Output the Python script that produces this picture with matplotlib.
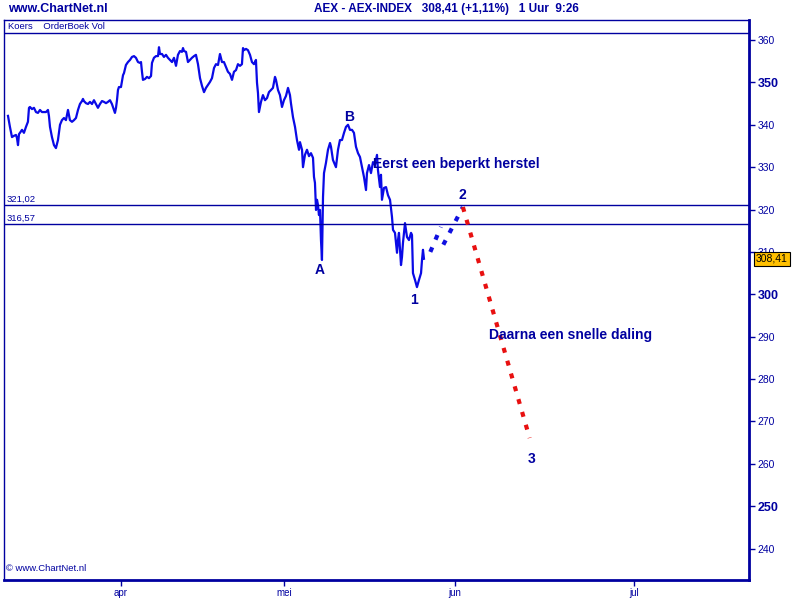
import matplotlib.pyplot as plt

# koersdata (uurbasis), x = handelsdag t.o.v. 1 april
dagen = [
    -13.88, -13.64, -13.39, -13.14, -12.90, -12.78, -12.65, -12.53, -12.41, -12.16,
    -11.92, -11.67, -11.43, -11.30, -11.18, -10.93, -10.69, -10.44, -10.20, -9.95,
    -9.71, -9.46, -9.21, -8.97, -8.85, -8.72, -8.48, -8.23, -7.99, -7.74,
    -7.49, -7.25, -7.00, -6.76, -6.51, -6.39, -6.27, -6.02, -5.77, -5.53,
    -5.28, -5.04, -4.79, -4.67, -4.55, -4.30, -4.05, -3.81, -3.56, -3.32,
    -3.07, -2.83, -2.58, -2.33, -2.09, -1.84, -1.60, -1.35, -1.11, -0.86,
    -0.74, -0.61, -0.49, -0.37, -0.25, 0.00, 0.25, 0.37, 0.61, 0.86,
    1.11, 1.35, 1.60, 1.84, 2.09, 2.33, 2.46, 2.58, 2.70, 2.95,
    3.19, 3.44, 3.69, 3.81, 4.05, 4.30, 4.55, 4.67, 4.79, 5.04,
    5.28, 5.53, 5.77, 6.02, 6.27, 6.51, 6.76, 7.00, 7.25, 7.49,
    7.62, 7.74, 7.99, 8.23, 8.48, 8.72, 8.97, 9.21, 9.46, 9.71,
    9.95, 10.20, 10.44, 10.69, 10.93, 11.18, 11.43, 11.67, 11.92, 12.16,
    12.41, 12.65, 12.90, 13.14, 13.39, 13.64, 13.88, 14.13, 14.37, 14.62,
    14.86, 14.99, 15.11, 15.36, 15.60, 15.85, 16.09, 16.34, 16.58, 16.71,
    16.83, 16.95, 17.20, 17.44, 17.69, 17.94, 18.18, 18.43, 18.67, 18.92,
    19.04, 19.29, 19.53, 19.78, 20.02, 20.27, 20.52, 20.76, 20.88, 21.13,
    21.38, 21.62, 21.87, 21.99, 22.24, 22.36, 22.60, 22.85, 23.10, 23.34,
    23.59, 23.71, 23.83, 23.96, 24.08, 24.20, 24.32, 24.45, 24.57, 24.69,
    24.82, 24.94, 25.18, 25.43, 25.68, 25.80, 26.04, 26.41, 26.66, 26.90,
    27.15, 27.40, 27.64, 27.89, 28.13, 28.38, 28.62, 28.87, 29.12, 29.36,
    29.61, 29.85, 30.10, 30.22, 30.47, 30.71, 30.96, 31.20, 31.45, 31.57,
    31.82, 31.94, 32.06, 32.31, 32.56, 32.80, 33.05, 33.29, 33.42, 33.66,
    33.91, 34.03, 34.15, 34.40, 34.52, 34.64, 34.89, 35.14, 35.38, 35.63,
    35.75, 35.87, 36.12, 36.36, 36.61, 36.86, 36.98, 37.10, 37.22,
]
koers = [
    342.1, 339.5, 337.1, 337.4, 337.6, 336.9, 335.2, 337.8, 338.1, 338.8,
    338.1, 339.5, 340.7, 344.0, 344.2, 343.7, 344.0, 343.0, 342.8, 343.5,
    343.0, 343.0, 343.0, 343.5, 342.1, 339.5, 337.1, 335.2, 334.5, 336.4,
    340.0, 341.1, 341.6, 341.1, 343.5, 342.3, 341.1, 340.7, 341.1, 341.6,
    343.5, 344.9, 345.6, 346.1, 345.6, 345.1, 344.9, 345.4, 344.9, 345.8,
    344.9, 344.0, 344.9, 345.6, 345.4, 345.1, 345.4, 345.8, 344.9, 343.5,
    342.8, 344.0, 345.8, 348.2, 348.9, 348.9, 351.7, 352.2, 354.1, 354.8,
    355.3, 356.0, 356.2, 355.8, 354.8, 354.6, 354.8, 352.5, 350.6, 350.8,
    351.3, 351.0, 351.5, 354.6, 355.8, 356.2, 356.2, 358.3, 356.7, 356.7,
    356.0, 356.5, 355.8, 355.3, 354.8, 355.8, 353.9, 356.5, 357.4, 357.2,
    358.1, 357.4, 357.2, 354.8, 355.3, 355.8, 356.2, 356.5, 354.3, 351.0,
    349.2, 347.7, 348.7, 349.4, 350.1, 351.0, 353.4, 354.3, 354.1, 356.7,
    354.8, 354.8, 353.6, 352.5, 352.0, 350.6, 352.5, 352.9, 354.3, 353.9,
    354.3, 358.1, 357.6, 357.9, 357.6, 356.5, 354.8, 354.3, 355.3, 349.9,
    347.5, 343.0, 345.4, 347.0, 345.8, 346.3, 347.7, 348.2, 348.7, 351.3,
    350.6, 348.2, 347.0, 344.2, 345.8, 346.8, 348.7, 347.0, 345.1, 341.8,
    339.5, 336.4, 334.1, 335.9, 334.1, 330.0, 332.9, 334.1, 332.6, 333.3,
    332.2, 327.7, 326.3, 319.9, 322.3, 321.1, 318.7, 319.9, 312.8, 308.1,
    323.0, 328.6, 331.0, 334.1, 335.7, 334.8, 331.7, 330.0, 334.1, 336.4,
    336.4, 338.1, 339.5, 340.0, 338.8, 338.8, 338.1, 334.8, 333.3, 332.4,
    330.0, 327.7, 324.6, 328.6, 330.5, 328.6, 331.2, 330.5, 332.9, 329.3,
    325.3, 328.2, 322.3, 325.1, 325.3, 323.4, 322.3, 318.3, 315.2, 314.5,
    309.8, 312.8, 314.5, 306.9, 308.8, 312.1, 316.8, 313.5, 312.8, 314.5,
    314.0, 305.0, 303.4, 301.7, 303.4, 305.0, 308.1, 310.5, 308.4,
]

# steun/weerstand
niveaus = [321.02, 316.57]
niveau_labels = ['321,02', '316,57']

# golfprojecties
herstel_a_x = [38.0, 39.3]
herstel_a_y = [310.0, 315.9]
herstel_b_x = [39.6, 42.0]
herstel_b_y = [311.7, 320.6]
daling_x = [42.0, 50.2]
daling_y = [320.6, 266.1]

# golf labels
golf_labels = ['A', 'B', '1', '2', '3']
golf_x = [24.4, 28.0, 36.0, 41.9, 50.4]
golf_y = [305.8, 341.8, 298.7, 323.4, 261.2]

maand_pos = [0, 20, 41, 63]
maand_labels = ['apr', 'mei', 'jun', 'jul']
y_ticks = list(range(240, 361, 10))

navy = '#0000A0'
blauw = '#0A0AE6'

plt.rcParams['font.family'] = ['Liberation Sans', 'DejaVu Sans']

fig = plt.figure(figsize=(8, 6), dpi=100)
ax = fig.add_axes([4 / 800, 20 / 600, 745 / 800, 560 / 600])
ax.set_xlim(-14.37, 77.15)
ax.set_ylim(232.6, 364.72)

# koerslijn
ax.plot(dagen, koers, color=blauw, lw=1.6)

for n, lab in zip(niveaus, niveau_labels):
    ax.axhline(n, color=navy, lw=1)
    ax.text(-14.1, n + 0.35, lab, color=navy, fontsize=6.8, va='bottom')

# header "Koers OrderBoek Vol"
ax.axhline(361.65, color=navy, lw=1)
fig.text(8 / 800, 1 - 26.5 / 600, 'Koers    OrderBoek Vol', color=navy, fontsize=6.8, va='center')

ax.plot(herstel_a_x, herstel_a_y, color='#1010E0', lw=3, dashes=(1.2, 2))
ax.plot(herstel_b_x, herstel_b_y, color='#1010E0', lw=3, dashes=(1.2, 2))
ax.plot(daling_x, daling_y, color='#E81010', lw=3, dashes=(1.2, 2))

for lab, x, y in zip(golf_labels, golf_x, golf_y):
    ax.text(x, y, lab, color=navy, fontsize=10, fontweight='bold', ha='center', va='center')

ax.text(31.0, 330.8, 'Eerst een beperkt herstel', color=navy, fontsize=10,
        fontweight='bold', va='center')
ax.text(45.2, 290.4, 'Daarna een snelle daling', color=navy, fontsize=10,
        fontweight='bold', va='center')

ax.text(0.003, 0.012, '© www.ChartNet.nl', transform=ax.transAxes, color=navy,
        fontsize=6.8, va='bottom')

# assen
ax.yaxis.tick_right()
ax.set_yticks(y_ticks)
ax.set_yticklabels([str(t) for t in y_ticks])
for t, lbl in zip(y_ticks, ax.get_yticklabels()):
    if t % 50 == 0:
        lbl.set_fontweight('bold')
        lbl.set_fontsize(9)
    else:
        lbl.set_fontsize(7.5)
ax.tick_params(axis='y', direction='out', length=4, width=1, colors=navy, pad=2)
ax.set_xticks(maand_pos)
ax.set_xticklabels(maand_labels)
ax.tick_params(axis='x', direction='out', length=4, width=1, colors=navy, pad=2, labelsize=7)

for side in ['right', 'bottom']:
    ax.spines[side].set_linewidth(2)
    ax.spines[side].set_color(navy)
for side in ['left', 'top']:
    ax.spines[side].set_linewidth(1)
    ax.spines[side].set_color(navy)

# laatste koers label
ax.text(1.009, 308.41, '308,41', transform=ax.get_yaxis_transform(), fontsize=7.5,
        color='black', va='center', ha='left', clip_on=False, zorder=10,
        bbox=dict(boxstyle='square,pad=0.2', fc='#FFC000', ec='black', lw=0.8))

# titels
fig.text(8 / 800, 1 - 9 / 600, 'www.ChartNet.nl', color=navy, fontsize=9,
         fontweight='bold', va='center')
fig.text(446 / 800, 1 - 9 / 600, 'AEX - AEX-INDEX   308,41 (+1,11%)   1 Uur  9:26',
         color=navy, fontsize=8.5, fontweight='bold', va='center', ha='center')

fig.savefig('out.png', dpi=100)
